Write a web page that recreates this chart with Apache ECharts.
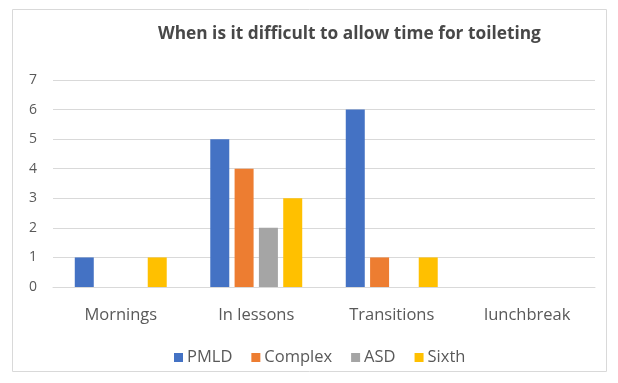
<!DOCTYPE html>
<html>
<head>
<meta charset="utf-8">
<script src="https://cdn.jsdelivr.net/npm/echarts@6/dist/echarts.min.js"></script>
<style>
  html, body { margin: 0; padding: 0; background: #ffffff; }
  #chart { width: 618px; height: 383px; }
</style>
</head>
<body>
<div id="chart"></div>
<script>
// Categories and per-group counts
const categories = ['Mornings', 'In lessons', 'Transitions', 'lunchbreak'];
const pmld = [1, 5, 6, 0];
const complex = [0, 4, 1, 0];
const asd = [0, 2, 0, 0];
const sixth = [1, 3, 1, 0];
const yTicks = [0, 1, 2, 3, 4, 5, 6, 7];

const seriesDefs = [
  { name: 'PMLD', data: pmld, color: '#4472C4' },
  { name: 'Complex', data: complex, color: '#ED7D31' },
  { name: 'ASD', data: asd, color: '#A5A5A5' },
  { name: 'Sixth', data: sixth, color: '#FFC000' }
];

const chart = echarts.init(document.getElementById('chart'));
const textColor = '#595959';
const fontFamily = '"Open Sans", Lato, sans-serif';

chart.setOption({
  animation: false,
  textStyle: { fontFamily: fontFamily },
  graphic: [{
    type: 'rect',
    shape: { x: 12.5, y: 9.5, width: 594, height: 362 },
    style: { fill: 'none', stroke: '#d9d9d9', lineWidth: 1 },
    silent: true,
    z: -1
  }],
  title: {
    text: 'When is it difficult to allow time for toileting',
    left: 153,
    top: 21,
    textStyle: { fontFamily: fontFamily, fontSize: 17.3, fontWeight: 'bold', color: '#484848' }
  },
  legend: {
    data: seriesDefs.map(s => s.name),
    left: 174,
    top: 349,
    padding: 0,
    icon: 'rect',
    itemWidth: 9,
    itemHeight: 9,
    itemGap: 19,
    textStyle: { fontFamily: fontFamily, fontSize: 16.5, color: textColor, padding: [0, 0, 0, -1] }
  },
  grid: { left: 53, right: 23, top: 80, bottom: 96, containLabel: false },
  xAxis: {
    type: 'category',
    data: categories,
    axisLine: { show: true, lineStyle: { color: '#d9d9d9' } },
    axisTick: { show: false },
    axisLabel: { color: textColor, fontSize: 16.5, margin: 20, fontFamily: fontFamily }
  },
  yAxis: {
    type: 'value',
    min: yTicks[0],
    max: yTicks[yTicks.length - 1],
    interval: 1,
    axisLine: { show: false },
    axisTick: { show: false },
    axisLabel: { color: textColor, fontSize: 14, margin: 16, fontFamily: fontFamily },
    splitLine: { lineStyle: { color: '#d9d9d9', width: 1 } }
  },
  series: seriesDefs.map(s => ({
    name: s.name,
    type: 'bar',
    data: s.data,
    barWidth: 19,
    barGap: '28%',
    itemStyle: { color: s.color }
  }))
});
</script>
</body>
</html>
